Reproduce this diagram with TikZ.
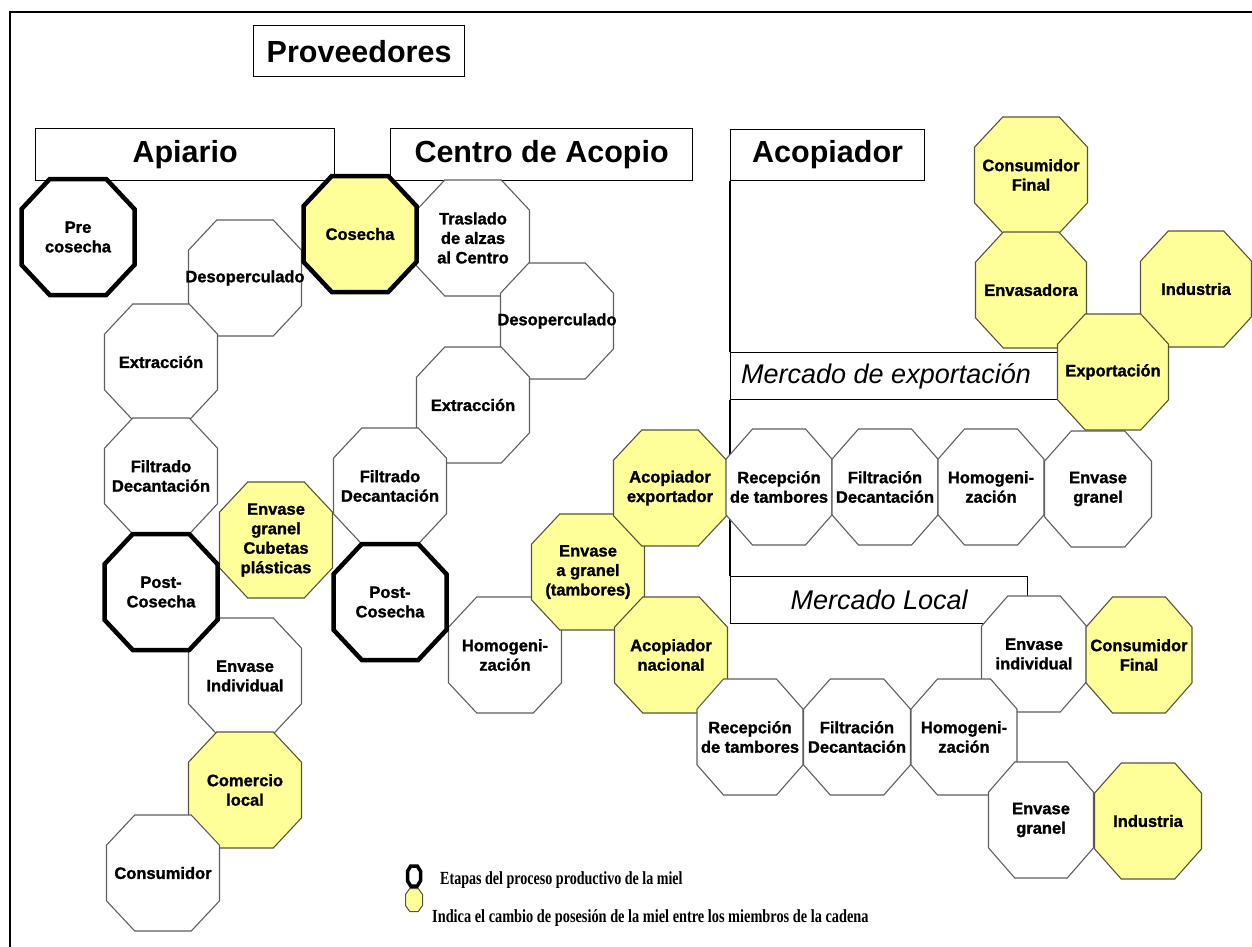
\documentclass[tikz,border=0pt]{standalone}
\usepackage{fontspec}
\setmainfont{Liberation Sans}
\newfontfamily\octfont{Liberation Sans}[BoldFeatures={FakeBold=1.3}]
\newfontfamily\legfont{Liberation Serif}
\definecolor{hy}{RGB}{255,255,153}
\definecolor{ol}{RGB}{95,95,95}
\definecolor{oly}{RGB}{85,85,60}
\tikzset{
  octpath/.style={draw=ol, line width=1.1pt, fill=white, line join=miter},
  octy/.style={fill=hy, draw=oly},
  octk/.style={draw=black, line width=4.5pt},
  octtext/.style={align=center, font=\octfont\fontsize{16.5}{19.5}\selectfont\bfseries, inner sep=0pt, minimum width=100pt, minimum height=100pt},
  hbox/.style={draw=black, line width=1.2pt, rectangle, inner sep=0pt, anchor=north west, font=\fontsize{30.5}{34}\selectfont\bfseries},
  mbox/.style={draw=black, line width=1.2pt, rectangle, inner sep=0pt, anchor=north west, font=\fontsize{27}{30}\selectfont\itshape},
  legtext/.style={anchor=base west, inner sep=0pt, font=\legfont\bfseries\fontsize{18.5}{20}\selectfont},
}
% #1 style, #2 x, #3 y, #4 width, #5 height
\newcommand{\octshape}[5][]{\path[octpath,#1] ({#2-#4/2},{#3-0.24*#5}) -- ({#2-#4/2},{#3+0.24*#5}) -- ({#2-#4/4},{#3+#5/2}) -- ({#2+#4/4},{#3+#5/2}) -- ({#2+#4/2},{#3+0.24*#5}) -- ({#2+#4/2},{#3-0.24*#5}) -- ({#2+#4/4},{#3-#5/2}) -- ({#2-#4/4},{#3-#5/2}) -- cycle;}
% #1 style, #2 name, #3 x, #4 y, #5 width, #6 text
\newcommand{\oct}[6][]{\octshape[#1]{#3}{#4}{#5}{116}\node[octtext] (#2) at (#3,#4) {#6};}
\begin{document}
\begin{tikzpicture}[x=1pt,y=-1pt]
\useasboundingbox (0,0) rectangle (1252,947);
\fill[white] (0,0) rectangle (1252,947);
% frame
\draw[line width=2pt] (10,947) -- (10,12) -- (1252,12);
% headings
\node[hbox, minimum width=211pt, minimum height=51pt] (prov) at (253,25) {Proveedores};
\node[hbox, minimum width=299pt, minimum height=52pt] (apiario) at (35,128) {Apiario};
\node[hbox, minimum width=302pt, minimum height=52pt] (centro) at (390,128) {Centro de Acopio};
\node[hbox, minimum width=194pt, minimum height=51pt] (acop) at (730,129) {Acopiador};
\node[mbox, minimum width=330pt, minimum height=47pt] (mexp) at (730,352) {};
\node[anchor=west, inner sep=0pt, font=\fontsize{27}{30}\selectfont\itshape] (mexpt) at (741,376) {Mercado de exportación};
\node[mbox, minimum width=297pt, minimum height=47pt] (mloc) at (730,576) {Mercado Local};
\draw[line width=1.2pt] (acop.south west) -- (mexp.north west);
\draw[line width=1.2pt] (mexp.south west) -- (mloc.north west);
% Apiario column
\oct{desA}{245}{278}{113}{Desoperculado}
\oct{extA}{161}{362}{113}{Extracción}
\oct{filA}{161}{476}{113}{Filtrado\\Decantación}
\oct[octy]{cub}{276}{540}{113}{Envase\\granel\\Cubetas\\plásticas}
\oct{indA}{245}{676}{113}{Envase\\Individual}
\oct[octy]{com}{245}{790}{113}{Comercio\\local}
\oct{cons}{163}{873}{113}{Consumidor}
% Centro de acopio
\oct{tras}{473}{238}{113}{Traslado\\de alzas\\al Centro}
\oct{desC}{557}{321}{113}{Desoperculado}
\oct{extC}{473}{405}{113}{Extracción}
\oct{filC}{390}{486}{113}{Filtrado\\Decantación}
\oct{homC}{505}{655}{113}{Homogeni-\\zación}
\oct[octy]{gran}{588}{572}{113}{Envase\\a granel\\(tambores)}
\oct[octy]{acex}{670}{488}{113}{Acopiador\\exportador}
\oct[octy]{acna}{671}{655}{113}{Acopiador\\nacional}
% Export row
\oct{recE}{779}{487}{106}{Recepción\\de tambores}
\oct{filE}{885}{487}{106}{Filtración\\Decantación}
\oct{homE}{991}{487}{106}{Homogeni-\\zación}
\oct{graE}{1098}{489}{107}{Envase\\granel}
\oct[octy]{cfE}{1031}{175}{113}{Consumidor\\Final}
\oct[octy]{envE}{1031}{290}{111}{Envasadora}
\oct[octy]{indE}{1196}{289}{111}{Industria}
\oct[octy]{expo}{1113}{372}{111}{Exportación}
% Local row
\oct{eiL}{1034}{654}{105}{Envase\\individual}
\oct[octy]{cfL}{1139}{655}{106}{Consumidor\\Final}
\oct{recL}{750}{737}{106}{Recepción\\de tambores}
\oct{filL}{857}{737}{107}{Filtración\\Decantación}
\oct{homL}{964}{737}{106}{Homogeni-\\zación}
\oct{graL}{1041}{820}{105}{Envase\\granel}
\oct[octy]{indL}{1148}{821}{107}{Industria}
% thick stages
\oct[octk]{pre}{78}{237}{113}{Pre\\cosecha}
\oct[octk,fill=hy]{cos}{360}{234}{113}{Cosecha}
\oct[octk]{postA}{161}{592}{113}{Post-\\Cosecha}
\oct[octk]{postC}{390}{602}{113}{Post-\\Cosecha}
% legend
\octshape[draw=black, line width=3.5pt]{414}{876}{13}{20}
\octshape[octy, line width=1pt]{414}{900}{17}{23}
\node[legtext] (leg1) at (440,884) {\scalebox{0.76}[1]{Etapas del proceso productivo de la miel}};
\node[legtext] (leg2) at (432,922) {\scalebox{0.775}[1]{Indica el cambio de posesión de la miel entre los miembros de la cadena}};
\end{tikzpicture}
\end{document}
